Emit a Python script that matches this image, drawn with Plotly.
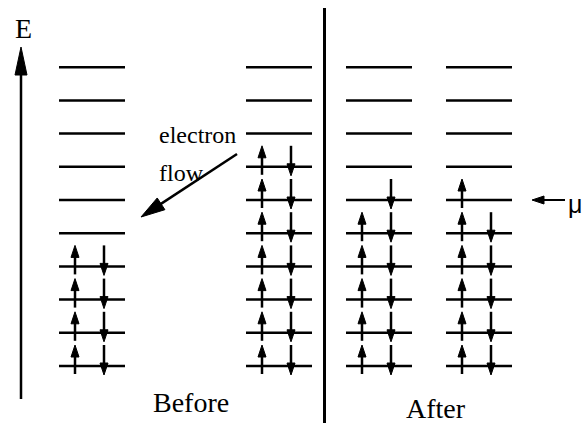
import plotly.graph_objects as go

# ---------------- data ----------------
levels = list(range(10))                       # energy levels, 0 = lowest
columns = ["Before, metal A", "Before, metal B", "After, metal A", "After, metal B"]
spin_up = [[0, 1, 2, 3], [0, 1, 2, 3, 4, 5, 6], [0, 1, 2, 3, 4], [0, 1, 2, 3, 4, 5]]
spin_down = [[0, 1, 2, 3], [0, 1, 2, 3, 4, 5, 6], [0, 1, 2, 3, 4, 5], [0, 1, 2, 3, 4]]
panel_labels = ["Before", "After"]
axis_label = "E"
flow_label = ["electron", "flow"]
mu_label = "\u03bc"
mu_level = 5

# ---------------- layout constants (pixels) ----------------
W, H = 584, 423
Y0_PX = 366.0          # pixel row of level 0
STEP_PX = 33.2         # pixels between levels
COL_X0 = [59, 246, 346, 446]
LINE_LEN = 66
UP_DX, DOWN_DX = 16, 45
SERIF = "Liberation Serif"
SANS = "Liberation Sans"


def ly(py):
    """pixel row -> data y (level units)"""
    return (Y0_PX - py) / STEP_PX


def py_of(level):
    return Y0_PX - STEP_PX * level


fig = go.Figure()

# level lines
lx, lyv = [], []
for x0 in COL_X0:
    for k in levels:
        lx += [x0, x0 + LINE_LEN, None]
        lyv += [k, k, None]
fig.add_trace(go.Scatter(x=lx, y=lyv, mode="lines", line=dict(color="black", width=2.5),
                         hoverinfo="skip", showlegend=False))

shafts = {}   # width -> (xs, ys)
heads_x, heads_y = [], []


def arrow(x1, y1, x2, y2, width=2.5, head_len=12, head_w=8):
    """arrow in pixel coords from (x1,y1) to tip (x2,y2)"""
    dx, dy = x2 - x1, y2 - y1
    L = (dx * dx + dy * dy) ** 0.5
    ux, uy = dx / L, dy / L
    bx, by = x2 - ux * head_len, y2 - uy * head_len
    sx, sy = x2 - ux * head_len * 0.5, y2 - uy * head_len * 0.5
    xs, ys = shafts.setdefault(width, ([], []))
    xs += [x1, sx, None]
    ys += [ly(y1), ly(sy), None]
    nx, ny = -uy, ux
    heads_x.extend([x2, bx + nx * head_w / 2, bx - nx * head_w / 2, x2, None])
    heads_y.extend([ly(y2), ly(by + ny * head_w / 2), ly(by - ny * head_w / 2), ly(y2), None])


# spin arrows
for x0, ups, downs in zip(COL_X0, spin_up, spin_down):
    for k in ups:
        p = py_of(k)
        arrow(x0 + UP_DX, p + 8, x0 + UP_DX, p - 21)
    for k in downs:
        p = py_of(k)
        arrow(x0 + DOWN_DX, p - 21, x0 + DOWN_DX, p + 9)

# energy axis arrow
arrow(21, 399, 21, 47, width=2.5, head_len=28, head_w=12)
# electron flow arrow
arrow(237, 154, 141, 217, width=2.5, head_len=24, head_w=14)
# chemical potential arrow
mp = py_of(mu_level)
arrow(565, mp, 532, mp, width=2, head_len=12, head_w=8)

for w, (xs, ys) in shafts.items():
    fig.add_trace(go.Scatter(x=xs, y=ys, mode="lines", line=dict(color="black", width=w),
                             hoverinfo="skip", showlegend=False))
fig.add_trace(go.Scatter(x=heads_x, y=heads_y, mode="lines", fill="toself",
                         fillcolor="black", line=dict(color="black", width=1),
                         hoverinfo="skip", showlegend=False))

# separator
fig.add_trace(go.Scatter(x=[324.5, 324.5], y=[ly(8), ly(423)], mode="lines",
                         line=dict(color="black", width=3), hoverinfo="skip", showlegend=False))


# texts
def text(t, x, py, size, font=SERIF, xanchor="center"):
    fig.add_annotation(x=x, y=ly(py), text=t, showarrow=False, xanchor=xanchor,
                       yanchor="middle", font=dict(family=font, size=size, color="black"))


text(axis_label, 23, 28, 28)
text(panel_labels[0], 191, 402, 28)
text(panel_labels[1], 436, 408, 28)
text(flow_label[0], 157, 135, 24, xanchor="left")
text(flow_label[1], 157, 173, 24, xanchor="left")
text(mu_label, 575, 204, 25, font=SANS)

fig.update_layout(
    width=W, height=H, margin=dict(l=0, r=0, t=0, b=0),
    paper_bgcolor="white", plot_bgcolor="white",
    xaxis=dict(range=[0, W], visible=False, fixedrange=True),
    yaxis=dict(range=[ly(H), ly(0)], visible=False, fixedrange=True),
    showlegend=False,
)
fig.write_html("out.html", config={"displayModeBar": False},
               post_script="document.body.style.margin='0';document.body.style.overflow='hidden';")
